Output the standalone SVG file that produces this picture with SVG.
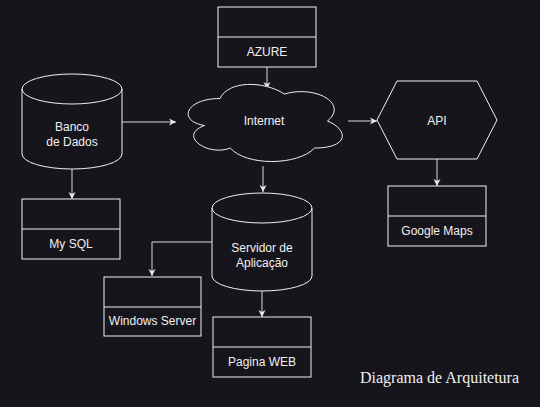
<svg xmlns="http://www.w3.org/2000/svg" width="540" height="407" viewBox="0 0 540 407">
<style>
.shape{fill:#17151c;stroke:#f0f0f0;stroke-width:1}
.div{fill:none;stroke:#f0f0f0;stroke-width:1}
.lbl{font-family:"Liberation Sans",Arial,sans-serif;font-size:12px;fill:#f0f0f0;text-anchor:middle}
.conn{fill:none;stroke:#d8d8d8;stroke-width:1}
.title{font-family:"Liberation Serif","Times New Roman",serif;font-size:16px;fill:#f0f0f0}
</style>
<defs>
<marker id="arr" markerUnits="userSpaceOnUse" markerWidth="9" markerHeight="9" refX="7" refY="4.5" orient="auto">
<path d="M0,1 L7,4.5 L0,8 L2,4.5 Z" fill="#e8e8e8"/>
</marker>
</defs>
<rect width="540" height="407" fill="#17151c"/>
<g id="connectors">
<path class="conn" d="M122,122 L176,122" marker-end="url(#arr)"/>
<path class="conn" d="M267,67 L267,89" marker-end="url(#arr)"/>
<path class="conn" d="M348,121 L377,121" marker-end="url(#arr)"/>
<path class="conn" d="M437,159 L437,186" marker-end="url(#arr)"/>
<path class="conn" d="M72,169 L72,199" marker-end="url(#arr)"/>
<path class="conn" d="M263,166 L263,192" marker-end="url(#arr)"/>
<path class="conn" d="M212,242 L152,242 L152,276" marker-end="url(#arr)"/>
<path class="conn" d="M262,291 L262,317" marker-end="url(#arr)"/>
</g>
<g id="azure">
<rect class="shape" x="218" y="7" width="98" height="60"/>
<line class="div" x1="218" y1="37" x2="316" y2="37"/>
<text class="lbl" x="267" y="56">AZURE</text>
</g>
<g id="banco">
<path class="shape" d="M22,89 A50,15 0 0 1 122,89 L122,154 A50,15 0 0 1 22,154 Z"/>
<path class="div" d="M22,89 A50,15 0 0 0 122,89"/>
<text class="lbl" x="72" y="131">Banco</text>
<text class="lbl" x="72" y="146">de Dados</text>
</g>
<g id="internet">
<path class="shape" d="M220,98.5 C185.6,98.5 177,121 204.5,125.5 C177,135.4 208,157 230.3,148 C245.8,166 297.4,166 314.6,148 C349,148 349,130 327.5,121 C349,103 314.6,85 284.5,94 C263,80.5 228.6,80.5 220,98.5 Z"/>
<text class="lbl" x="264" y="125">Internet</text>
</g>
<g id="api">
<polygon class="shape" points="377,120 397,81 477,81 497,120 477,159 397,159"/>
<text class="lbl" x="437" y="124.5">API</text>
</g>
<g id="googlemaps">
<rect class="shape" x="388" y="186" width="98" height="60"/>
<line class="div" x1="388" y1="216" x2="486" y2="216"/>
<text class="lbl" x="437" y="234.5">Google Maps</text>
</g>
<g id="mysql">
<rect class="shape" x="22" y="199" width="98" height="60"/>
<line class="div" x1="22" y1="229" x2="120" y2="229"/>
<text class="lbl" x="71" y="248">My SQL</text>
</g>
<g id="servidor">
<path class="shape" d="M212,208 A50,15 0 0 1 312,208 L312,276 A50,15 0 0 1 212,276 Z"/>
<path class="div" d="M212,208 A50,15 0 0 0 312,208"/>
<text class="lbl" x="262" y="251.5">Servidor de</text>
<text class="lbl" x="262" y="266.5">Aplicação</text>
</g>
<g id="windows">
<rect class="shape" x="104" y="277" width="97" height="59"/>
<line class="div" x1="104" y1="307" x2="201" y2="307"/>
<text class="lbl" x="152.5" y="325">Windows Server</text>
</g>
<g id="pagina">
<rect class="shape" x="213" y="317" width="98" height="60"/>
<line class="div" x1="213" y1="347" x2="311" y2="347"/>
<text class="lbl" x="262" y="365.5">Pagina WEB</text>
</g>
<text class="title" x="360" y="382.5">Diagrama de Arquitetura</text>
</svg>
